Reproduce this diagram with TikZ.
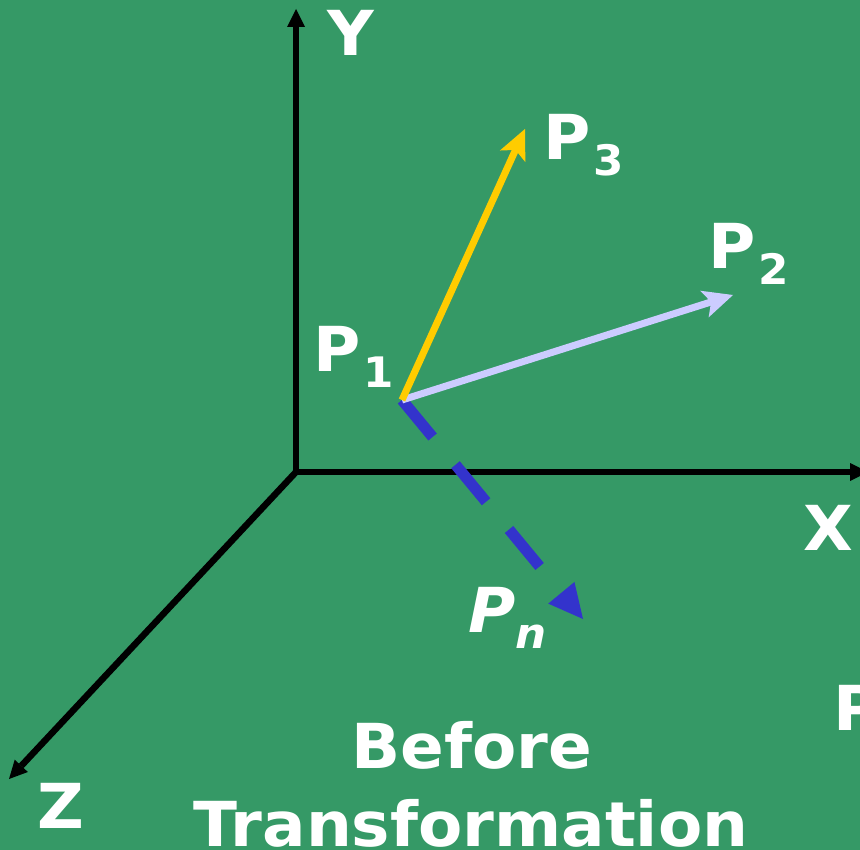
\documentclass[tikz,border=0pt]{standalone}
\usepackage{fontspec}
\setmainfont{DejaVu Sans}[FakeStretch=1.04]
\usetikzlibrary{arrows.meta}

\definecolor{bggreen}{HTML}{359966}
\definecolor{vecyellow}{HTML}{FFCC00}
\definecolor{veclilac}{HTML}{CCCCFF}
\definecolor{vecblue}{HTML}{3333CC}
\newcommand{\lblsub}[1]{\kern3pt\raisebox{-16pt}{\fontsize{42}{42}\selectfont #1}}

\begin{document}
\begin{tikzpicture}[x=1pt,y=-1pt,
  axis/.style={line width=6.5pt,-{Triangle[length=18pt,width=18pt,line width=0pt]}},
  vec/.style={line width=7pt,-{Stealth[length=30pt,width=28pt,inset=7pt,line width=0pt]}},
  lbl/.style={text=white,font=\fontsize{62}{62}\selectfont\bfseries,
    inner sep=0pt,anchor=base west}]
  % Background
  \fill[bggreen] (0,0) rectangle (860,850);
  \useasboundingbox (0,0) rectangle (860,850);

  % Axes
  \coordinate (O) at (296,472);
  \coordinate (Xend) at (868,472);
  \coordinate (Yend) at (296,9);
  \coordinate (Zend) at (9,779);
  \draw[axis] (O) -- (Xend);
  \draw[axis] (O) -- (Yend);
  \draw[axis] (O) -- (Zend);
  \node[lbl] (xlbl) at (803,550) {X};
  \node[lbl] (ylbl) at (327,56) {Y};
  \node[lbl] (zlbl) at (37,828) {Z};

  % Vectors from P1
  \coordinate (P1) at (402,400);
  \coordinate (P2tip) at (733,295);
  \coordinate (P3tip) at (525,129);
  \coordinate (Pntip) at (583,619);
  \draw[vecblue,line width=11pt,dash pattern=on 48pt off 36pt,
    -{Triangle[length=34pt,width=34pt,line width=0pt]}] (P1) -- (Pntip);
  \draw[vec,veclilac] (P1) -- (P2tip);
  \draw[vec,vecyellow] (P1) -- (P3tip);

  % Point labels
  \node[lbl] (p1lbl) at (313,372) {P\lblsub{1}};
  \node[lbl] (p2lbl) at (708,269) {P\lblsub{2}};
  \node[lbl] (p3lbl) at (543,160) {P\lblsub{3}};
  \node[lbl,font=\fontsize{62}{62}\selectfont\bfseries\itshape] (pnlbl)
    at (468,632) {P\kern-3pt\lblsub{n}};
  \node[lbl] (pcut) at (833,730) {P};

  % Caption
  \node[lbl,anchor=base] (before) at (472,768) {Before};
  \node[lbl,anchor=base] (transf) at (471,846) {Transformation};
\end{tikzpicture}
\end{document}
